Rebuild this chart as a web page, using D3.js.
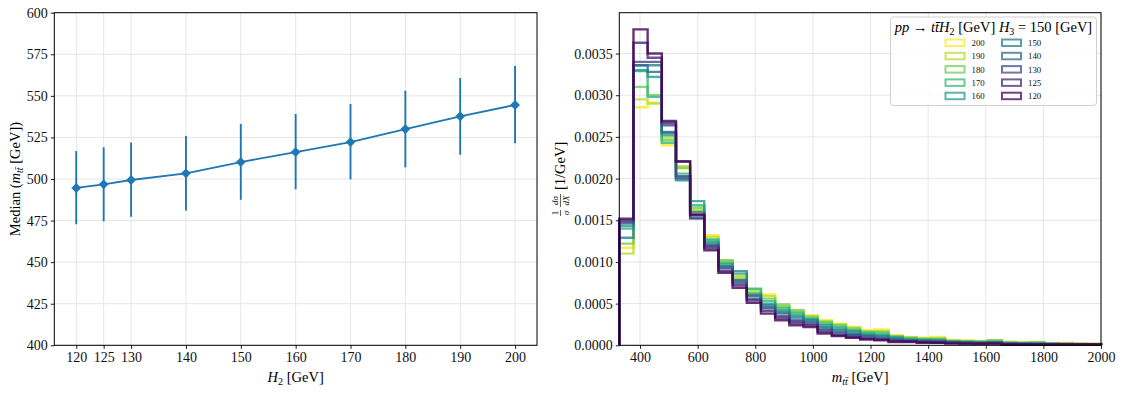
<!DOCTYPE html>
<html><head><meta charset="utf-8">
<script src="https://cdn.jsdelivr.net/npm/d3@7"></script>
<style>
body{margin:0;background:#fff}
svg{font-family:"Liberation Serif","DejaVu Serif",serif}
</style>
</head><body>
<svg id="c" width="1123" height="393"></svg>
<script>
// ---------- data: left panel ----------
const h2Values = [120,125,130,140,150,160,170,180,190,200];
const medianValues = [494.6,496.8,499.4,503.4,510.2,516.2,522.2,530.0,537.7,544.5];
const errLowValues = [472.8,474.6,477.3,481.0,487.5,493.8,499.8,507.0,514.6,521.5];
const errHighValues = [516.8,519.1,521.9,525.9,533.1,539.1,545.1,553.1,560.7,568.0];
const leftYTicks = [400,425,450,475,500,525,550,575,600];
const leftXTicks = [120,125,130,140,150,160,170,180,190,200];

// ---------- data: right panel ----------
const binStart = 328, binEnd = 2000, nBins = 34;
const rightXTicks = [400,600,800,1000,1200,1400,1600,1800,2000];
const rightYTicks = [0,0.0005,0.0010,0.0015,0.0020,0.0025,0.0030,0.0035];
const seriesLabels = [200,190,180,170,160,150,140,130,125,120];
const hist200 = [0.00117,0.002855,0.00291,0.00240,0.00212,0.00160,0.00132,0.00099,0.00082,0.00063,0.00061,0.00046,0.00041,0.00036,0.00030,0.00026,0.00022,0.00018,0.00019,0.00012,0.00010,0.00009,0.00010,0.00006,0.00006,0.00005,0.00006,0.00004,0.00003,0.00004,0.00002,0.00003,0.00002,0.00002];
const hist190 = [0.00110,0.00295,0.00290,0.00249,0.00215,0.00162,0.00130,0.00101,0.00083,0.00064,0.00059,0.00047,0.00040,0.00035,0.00029,0.00025,0.00021,0.00017,0.00017,0.00011,0.00009,0.00008,0.00008,0.00006,0.00005,0.00005,0.00005,0.00004,0.00003,0.00003,0.00002,0.00002,0.00002,0.00002];
const hist180 = [0.00122,0.00310,0.00300,0.00246,0.00213,0.00165,0.00126,0.00102,0.00080,0.00067,0.00056,0.00049,0.00042,0.00034,0.00028,0.00024,0.00020,0.00016,0.00016,0.00011,0.00009,0.00008,0.00008,0.00005,0.00005,0.00004,0.00006,0.00003,0.00003,0.00003,0.00002,0.00002,0.00002,0.00001];
const hist170 = [0.00140,0.00329,0.00298,0.00243,0.00206,0.00168,0.00127,0.00099,0.00077,0.00068,0.00053,0.00045,0.00039,0.00032,0.00026,0.00022,0.00018,0.00015,0.00014,0.00010,0.00008,0.00007,0.00007,0.00005,0.00004,0.00004,0.00004,0.00003,0.00002,0.00003,0.00002,0.00002,0.00001,0.00001];
const hist160 = [0.00143,0.00330,0.00322,0.00252,0.00200,0.00173,0.00124,0.00097,0.00086,0.00062,0.00050,0.00042,0.00036,0.00031,0.00024,0.00020,0.00017,0.00013,0.00012,0.00009,0.00007,0.00006,0.00006,0.00004,0.00004,0.00003,0.00004,0.00002,0.00002,0.00002,0.00002,0.00001,0.00001,0.00001];
const hist150 = [0.00129,0.00336,0.00336,0.00256,0.00198,0.00160,0.00122,0.00095,0.00089,0.00060,0.00048,0.00040,0.00034,0.00030,0.00022,0.00018,0.00015,0.00012,0.00011,0.00008,0.00006,0.00006,0.00005,0.00004,0.00003,0.00003,0.00003,0.00002,0.00002,0.00002,0.00001,0.00001,0.00001,0.00001];
const hist140 = [0.00146,0.00336,0.00328,0.00255,0.00201,0.00153,0.00120,0.00094,0.00078,0.00059,0.00046,0.00038,0.00031,0.00028,0.00020,0.00016,0.00013,0.00011,0.00009,0.00007,0.00006,0.00005,0.00005,0.00003,0.00003,0.00003,0.00003,0.00002,0.00002,0.00001,0.00001,0.00001,0.00001,0.00001];
const hist130 = [0.00148,0.00340,0.00340,0.00264,0.00203,0.00152,0.00119,0.00092,0.00075,0.00056,0.00044,0.00035,0.00029,0.00026,0.00018,0.00014,0.00012,0.00009,0.00008,0.00006,0.00005,0.00004,0.00004,0.00003,0.00003,0.00002,0.00003,0.00002,0.00001,0.00001,0.00001,0.00001,0.00001,0.00001];
const hist125 = [0.00150,0.00363,0.00345,0.00267,0.00220,0.00156,0.00117,0.00089,0.00072,0.00054,0.00041,0.00033,0.00027,0.00024,0.00016,0.00012,0.00010,0.00008,0.00007,0.00005,0.00005,0.00004,0.00003,0.00003,0.00002,0.00002,0.00002,0.00001,0.00001,0.00001,0.00001,0.00001,0.00001,0.00001];
const hist120 = [0.00152,0.00379,0.00350,0.00269,0.00221,0.00157,0.00114,0.00087,0.00069,0.00051,0.00038,0.00030,0.00024,0.00022,0.00014,0.00011,0.00009,0.00007,0.00006,0.00004,0.00004,0.00003,0.00003,0.00002,0.00002,0.00002,0.00002,0.00001,0.00001,0.00001,0.00001,0.00001,0.00001,0.00001];
const seriesColors = ["#fde725","#b5de2b","#6ece58","#35b779","#1f9e89","#26828e","#31688e","#3e4989","#482878","#440154"];

const histSeries = [hist200,hist190,hist180,hist170,hist160,hist150,hist140,hist130,hist125,hist120];

const svg = d3.select("#c");
const FS = 14;
const LFS = 14.5;
const gridColor = "#e6e6e6";

// ================= LEFT PANEL =================
const L = {x0:54.3, x1:537, y0:12.7, y1:345.3};
const xL = d3.scaleLinear().domain([116,204]).range([L.x0,L.x1]);
const yL = d3.scaleLinear().domain([400,600]).range([L.y1,L.y0]);
const gl = svg.append("g");
gl.selectAll("line.gx").data(leftXTicks).join("line").attr("class","gx")
  .attr("x1",d=>xL(d)).attr("x2",d=>xL(d)).attr("y1",L.y0).attr("y2",L.y1)
  .attr("stroke",gridColor).attr("stroke-width",1);
gl.selectAll("line.gy").data(leftYTicks).join("line").attr("class","gy")
  .attr("x1",L.x0).attr("x2",L.x1).attr("y1",d=>yL(d)).attr("y2",d=>yL(d))
  .attr("stroke",gridColor).attr("stroke-width",1);
const axLx = d3.axisBottom(xL).tickValues(leftXTicks).tickSize(3.5).tickPadding(3).tickFormat(d3.format("d"));
const axLy = d3.axisLeft(yL).tickValues(leftYTicks).tickSize(3.5).tickPadding(3).tickFormat(d3.format("d"));
function styleAxis(g){
  g.select(".domain").remove();
  g.selectAll("text").attr("font-size",FS).attr("fill","#111").attr("font-family",'"Liberation Serif",serif');
  g.selectAll("line").attr("stroke","#000").attr("stroke-width",0.9);
}
gl.append("g").attr("transform",`translate(0,${L.y1})`).call(axLx).call(styleAxis);
gl.append("g").attr("transform",`translate(${L.x0},0)`).call(axLy).call(styleAxis);
gl.selectAll("line.err").data(h2Values).join("line").attr("class","err")
  .attr("x1",d=>xL(d)).attr("x2",d=>xL(d))
  .attr("y1",(d,i)=>yL(errLowValues[i])).attr("y2",(d,i)=>yL(errHighValues[i]))
  .attr("stroke","#1f77b4").attr("stroke-width",1.9);
gl.append("path").datum(h2Values)
  .attr("d",d3.line().x(d=>xL(d)).y((d,i)=>yL(medianValues[i])))
  .attr("fill","none").attr("stroke","#1f77b4").attr("stroke-width",1.8);
const diamond = d3.symbol().type(d3.symbolSquare).size(48);
gl.selectAll("path.mk").data(h2Values).join("path").attr("class","mk")
  .attr("d",diamond())
  .attr("transform",(d,i)=>`translate(${xL(d)},${yL(medianValues[i])}) rotate(45)`)
  .attr("fill","#1f77b4");
gl.append("rect").attr("x",L.x0).attr("y",L.y0).attr("width",L.x1-L.x0).attr("height",L.y1-L.y0)
  .attr("fill","none").attr("stroke","#000").attr("stroke-width",1);
const xlabL = gl.append("text").attr("x",(L.x0+L.x1)/2).attr("y",382).attr("text-anchor","middle").attr("font-size",LFS);
xlabL.append("tspan").attr("font-style","italic").text("H");
xlabL.append("tspan").attr("font-size",10).attr("dy",3).text("2");
xlabL.append("tspan").attr("dy",-3).text(" [GeV]");
const ylabL = gl.append("text").attr("transform",`translate(20,${(L.y0+L.y1)/2}) rotate(-90)`).attr("text-anchor","middle").attr("font-size",LFS);
ylabL.append("tspan").text("Median (");
ylabL.append("tspan").attr("font-style","italic").text("m");
ylabL.append("tspan").attr("font-style","italic").attr("font-size",10).attr("dy",3).text("tt\u0304");
ylabL.append("tspan").attr("dy",-3).text(" [GeV])");

// ================= RIGHT PANEL =================
const R = {x0:619.3, x1:1101, y0:12.7, y1:345.3};
const xR = d3.scaleLinear().domain([binStart,binEnd]).range([R.x0,R.x1]);
const yR = d3.scaleLinear().domain([0,0.00399]).range([R.y1,R.y0]);
const gr = svg.append("g");
gr.selectAll("line.gx").data(rightXTicks).join("line").attr("class","gx")
  .attr("x1",d=>xR(d)).attr("x2",d=>xR(d)).attr("y1",R.y0).attr("y2",R.y1)
  .attr("stroke",gridColor).attr("stroke-width",1);
gr.selectAll("line.gy").data(rightYTicks).join("line").attr("class","gy")
  .attr("x1",R.x0).attr("x2",R.x1).attr("y1",d=>yR(d)).attr("y2",d=>yR(d))
  .attr("stroke",gridColor).attr("stroke-width",1);
const axRx = d3.axisBottom(xR).tickValues(rightXTicks).tickSize(3.5).tickPadding(3).tickFormat(d3.format("d"));
const axRy = d3.axisLeft(yR).tickValues(rightYTicks).tickSize(3.5).tickPadding(3).tickFormat(d3.format(".4f"));
gr.append("g").attr("transform",`translate(0,${R.y1})`).call(axRx).call(styleAxis);
gr.append("g").attr("transform",`translate(${R.x0},0)`).call(axRy).call(styleAxis);

const binW = (binEnd-binStart)/nBins;
function stepPath(vals){
  const pts = [[binStart,0]];
  vals.forEach((v,i)=>{ pts.push([binStart+i*binW,v]); pts.push([binStart+(i+1)*binW,v]); });
  pts.push([binEnd,0]);
  return d3.line().x(p=>xR(p[0])).y(p=>yR(p[1]))(pts);
}
const clip = svg.append("defs").append("clipPath").attr("id","rclip");
clip.append("rect").attr("x",R.x0-2).attr("y",R.y0).attr("width",R.x1-R.x0+4).attr("height",R.y1-R.y0+1.5);
gr.append("g").attr("clip-path","url(#rclip)").selectAll("path.h").data(histSeries).join("path")
  .attr("d",d=>stepPath(d)).attr("fill","none")
  .attr("stroke",(d,i)=>seriesColors[i]).attr("stroke-width",2.4).attr("stroke-opacity",0.8)
  .attr("stroke-linejoin","miter");
gr.append("rect").attr("x",R.x0).attr("y",R.y0).attr("width",R.x1-R.x0).attr("height",R.y1-R.y0)
  .attr("fill","none").attr("stroke","#000").attr("stroke-width",1);

const xlabR = gr.append("text").attr("x",(R.x0+R.x1)/2).attr("y",382).attr("text-anchor","middle").attr("font-size",LFS);
xlabR.append("tspan").attr("font-style","italic").text("m");
xlabR.append("tspan").attr("font-style","italic").attr("font-size",10).attr("dy",3).text("tt\u0304");
xlabR.append("tspan").attr("dy",-3).text(" [GeV]");
// y label with fractions
const yg = gr.append("g").attr("transform",`translate(565,${(R.y0+R.y1)/2}) rotate(-90)`);
const fr = yg.append("g").attr("transform","translate(-37,0)");
function frac(g,x,num,den,w,numItalic){
  g.append("text").attr("x",x+w/2).attr("y",-7).attr("text-anchor","middle").attr("font-size",9).attr("font-style",numItalic?"italic":"normal").text(num);
  g.append("line").attr("x1",x).attr("x2",x+w).attr("y1",-4.5).attr("y2",-4.5).attr("stroke","#000").attr("stroke-width",0.6);
  g.append("text").attr("x",x+w/2).attr("y",3.5).attr("text-anchor","middle").attr("font-size",9).attr("font-style","italic").text(den);
}
frac(fr,0,"1","\u03C3",6,false);
frac(fr,9,"d\u03C3","dX",13,true);
fr.append("text").attr("x",26).attr("y",0).attr("font-size",LFS).text("[1/GeV]");

// legend
const lg = gr.append("g");
lg.append("rect").attr("x",890.5).attr("y",17).attr("width",206).attr("height",88.5).attr("rx",3)
  .attr("fill","#fff").attr("fill-opacity",0.85).attr("stroke","#d0d0d0").attr("stroke-width",1);
const title = lg.append("text").attr("x",993.5).attr("y",31.5).attr("text-anchor","middle").attr("font-size",14.5);
title.append("tspan").attr("font-style","italic").text("pp");
title.append("tspan").text(" \u2192 ");
title.append("tspan").attr("font-style","italic").text("tt\u0304H");
title.append("tspan").attr("font-size",10).attr("dy",3).text("2");
title.append("tspan").attr("dy",-3).text(" [GeV] ");
title.append("tspan").attr("font-style","italic").text("H");
title.append("tspan").attr("font-size",10).attr("dy",3).text("3");
title.append("tspan").attr("dy",-3).text(" = 150 [GeV]");
seriesLabels.forEach((lab,i)=>{
  const col = Math.floor(i/5), row = i%5;
  const px = col===0 ? 945.5 : 1002, py = 39.5 + row*13.3;
  lg.append("rect").attr("x",px).attr("y",py).attr("width",19).attr("height",6.5)
    .attr("fill","none").attr("stroke",seriesColors[i]).attr("stroke-width",2).attr("stroke-opacity",0.75);
  lg.append("text").attr("x",px+26).attr("y",py+6.5).attr("font-size",8.8).attr("fill","#111").text(lab);
});
</script>
</body></html>
